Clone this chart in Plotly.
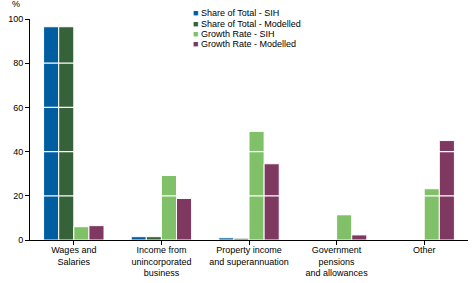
import plotly.graph_objects as go

categories = [
    "Wages and<br>Salaries",
    "Income from<br>unincorporated<br>business",
    "Property income<br>and superannuation",
    "Government<br>pensions<br>and allowances",
    "Other",
]
share_sih = [96.5, 1.5, 1.0, 0, 0]
share_modelled = [96.5, 1.5, 0.8, 0, 0]
growth_sih = [6.0, 29.2, 49.1, 11.4, 23.2]
growth_modelled = [6.5, 18.8, 34.5, 2.3, 45.0]
y_ticks = [0, 20, 40, 60, 80, 100]

series = [
    ("Share of Total - SIH", share_sih, "#005DA0"),
    ("Share of Total - Modelled", share_modelled, "#36623A"),
    ("Growth Rate - SIH", growth_sih, "#80C068"),
    ("Growth Rate - Modelled", growth_modelled, "#7F3860"),
]

fig = go.Figure()
for name, vals, col in series:
    fig.add_trace(go.Bar(
        name=name, x=categories, y=vals,
        marker=dict(color=col, line=dict(color="white", width=1)),
    ))

# white gridlines drawn over the bars, as in the original
for t in y_ticks[1:-1]:
    fig.add_shape(type="line", xref="paper", yref="y", x0=0, x1=1, y0=t, y1=t,
                  line=dict(color="white", width=1.2), layer="above")

# compact legend (plotly's built-in one spaces rows too far apart)
for i, (name, _, col) in enumerate(series):
    fig.add_annotation(text=f"<span style='color:{col}'>■</span> {name}",
                       xref="paper", yref="paper", x=0.368, y=1.026 - i * 0.0466,
                       xanchor="left", yanchor="middle", align="left",
                       showarrow=False, font=dict(size=9, color="black"))

fig.add_annotation(text="%", xref="paper", yref="paper", x=-0.032, y=1.035,
                   xanchor="center", yanchor="bottom", showarrow=False,
                   font=dict(size=9, color="black"))

fig.update_layout(
    width=472, height=283,
    margin=dict(l=30, r=4, t=19, b=43),
    paper_bgcolor="white", plot_bgcolor="white",
    font=dict(family="Liberation Sans, Arial, sans-serif", size=9, color="black"),
    barmode="group", bargap=0.31, bargroupgap=0,
    showlegend=False,
    xaxis=dict(showline=True, linecolor="black", linewidth=1,
               ticks="outside", ticklen=4, tickcolor="black", automargin=False,
               tickangle=0, showgrid=False, ticklabelstandoff=-3),
    yaxis=dict(range=[0, 100], tickvals=y_ticks, showline=True, automargin=False,
               linecolor="black", linewidth=1, ticks="outside", ticklen=4,
               tickcolor="black", showgrid=False, zeroline=False),
)

fig.write_html("out.html", config={"displayModeBar": False},
               post_script="document.body.style.margin='0';")
